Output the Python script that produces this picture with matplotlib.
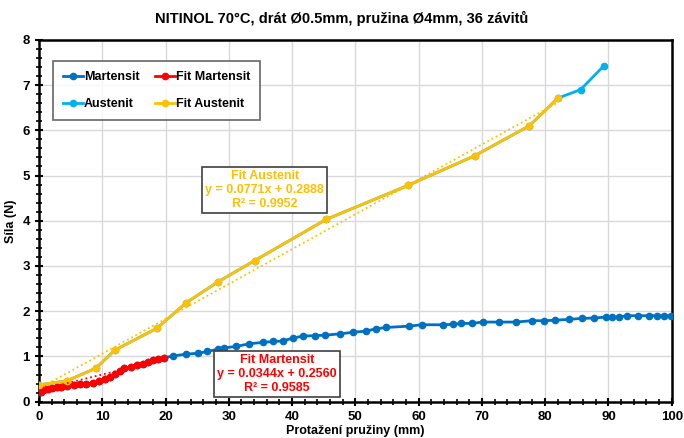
import numpy as np
import matplotlib
matplotlib.use("Agg")
import matplotlib.pyplot as plt
from matplotlib.ticker import MultipleLocator

plt.rcParams['font.family'] = ['Liberation Sans', 'DejaVu Sans']
plt.rcParams['font.weight'] = 'bold'

# Martensit (whole run) -- first part is covered by the fit series
mart_x = [0.0, 0.3, 0.6, 1.0, 1.5, 2.0, 2.8, 3.5, 4.5, 5.5, 6.5, 7.5, 8.5, 9.5,
          10.5, 11.3, 12.0, 12.8, 13.5, 14.5, 15.5, 16.5, 17.3, 18.0, 18.8, 19.7,
          21.2, 23.2, 25.2, 26.6, 28.3, 29.2, 31.2, 33.2, 35.4, 37.0, 38.5, 40.2,
          41.8, 43.6, 45.2, 47.6, 49.7, 51.7, 53.2, 54.9, 58.5, 60.5, 63.8, 65.4,
          66.7, 68.4, 70.1, 72.7, 75.4, 77.9, 79.8, 81.6, 83.7, 85.8, 87.8, 89.6,
          90.6, 91.6, 92.9, 94.7, 96.4, 97.7, 98.8, 99.9]
mart_y = [0.30, 0.22, 0.25, 0.27, 0.29, 0.31, 0.32, 0.33, 0.35, 0.36, 0.38, 0.40, 0.41, 0.45,
          0.50, 0.55, 0.62, 0.68, 0.74, 0.77, 0.80, 0.84, 0.88, 0.91, 0.94, 0.97,
          1.01, 1.05, 1.07, 1.11, 1.16, 1.19, 1.22, 1.28, 1.31, 1.33, 1.34, 1.41,
          1.45, 1.46, 1.47, 1.50, 1.535, 1.56, 1.61, 1.64, 1.67, 1.70, 1.70, 1.71,
          1.73, 1.73, 1.76, 1.76, 1.76, 1.79, 1.79, 1.80, 1.82, 1.84, 1.85, 1.87,
          1.87, 1.87, 1.90, 1.90, 1.90, 1.90, 1.90, 1.90]
n_fit_m = 26  # points used for the martensit fit

# Austenit
aus_x = [0.0, 4.4, 9.0, 12.0, 18.6, 23.3, 28.3, 34.1, 45.4, 58.3, 68.9, 77.5, 82.0, 85.6, 89.3]
aus_y = [0.37, 0.46, 0.74, 1.14, 1.62, 2.19, 2.65, 3.12, 4.03, 4.78, 5.44, 6.10, 6.71, 6.90, 7.43]
n_fit_a = 13

# trendline coefficients (as printed on the chart)
km, qm, r2m = 0.0344, 0.2560, 0.9585
ka, qa, r2a = 0.0771, 0.2888, 0.9952

c_mart = '#0070C0'
c_fitm = '#FF0000'
c_aus = '#00B0F0'
c_fita = '#FFC000'

fig = plt.figure(figsize=(6.84, 4.38), dpi=100)
ax = fig.add_axes([0.057, 0.083, 0.925, 0.826])

ax.plot(mart_x, mart_y, '-o', color=c_mart, lw=2, ms=4.5, label='Martensit', zorder=3)
ax.plot(aus_x, aus_y, '-o', color=c_aus, lw=2, ms=4.5, label='Austenit', zorder=3)
ax.plot(mart_x[:n_fit_m], mart_y[:n_fit_m], '-o', color=c_fitm, lw=2, ms=4.5,
        label='Fit Martensit', zorder=4)
ax.plot(aus_x[:n_fit_a], aus_y[:n_fit_a], '-o', color=c_fita, lw=2, ms=4.5,
        label='Fit Austenit', zorder=4)

# linear trendlines
xm = np.array([mart_x[0], mart_x[n_fit_m - 1]])
ax.plot(xm, km * xm + qm, ':', color=c_fitm, lw=1.3, zorder=5)
xa = np.array([aus_x[0], aus_x[n_fit_a - 1]])
ax.plot(xa, ka * xa + qa, ':', color=c_fita, lw=1.3, zorder=5)

box = dict(boxstyle='square,pad=0.25', fc='white', ec='#404040', lw=1.2)
ax.text(35.7, 4.68, 'Fit Austenit\ny = %.4fx + %.4f\nR² = %.4f' % (ka, qa, r2a),
        color=c_fita, fontsize=9, fontweight='bold', ha='center', va='center',
        bbox=box, zorder=6)
ax.text(37.6, 0.61, 'Fit Martensit\ny = %.4fx + %.4f\nR² = %.4f' % (km, qm, r2m),
        color=c_fitm, fontsize=9, fontweight='bold', ha='center', va='center',
        bbox=box, zorder=6)

ax.set_xlim(0, 100)
ax.set_ylim(0, 8)
ax.xaxis.set_major_locator(MultipleLocator(10))
ax.xaxis.set_minor_locator(MultipleLocator(2))
ax.yaxis.set_major_locator(MultipleLocator(1))
ax.yaxis.set_minor_locator(MultipleLocator(0.2))
ax.tick_params(which='major', direction='inout', length=6, width=1.5, labelsize=9.5)
ax.tick_params(which='minor', direction='inout', length=4, width=1.2)
ax.grid(True, which='major', color='#d9d9d9', lw=1, zorder=0)
ax.set_axisbelow(True)
for s in ax.spines.values():
    s.set_linewidth(1.8)
    s.set_color('black')
for lab in ax.get_xticklabels() + ax.get_yticklabels():
    lab.set_fontweight('bold')

ax.set_xlabel('Protažení pružiny (mm)', fontsize=9, fontweight='bold', labelpad=2)
ax.set_ylabel('Síla (N)', fontsize=9, fontweight='bold', labelpad=4)
fig.suptitle('NITINOL 70°C, drát Ø0.5mm, pružina Ø4mm, 36 závitů', fontsize=10.5,
             fontweight='bold', y=0.975)

h, l = ax.get_legend_handles_labels()
leg = ax.legend(h, l, loc='upper left', bbox_to_anchor=(0.012, 0.958), ncol=2,
                fontsize=9, frameon=True, fancybox=False, edgecolor='#404040',
                handlelength=1.6, handletextpad=0.1, columnspacing=1.2,
                labelspacing=1.2, borderpad=0.8)
leg.get_frame().set_linewidth(1.2)
for t in leg.get_texts():
    t.set_fontweight('bold')

fig.savefig('out.png', dpi=100)
